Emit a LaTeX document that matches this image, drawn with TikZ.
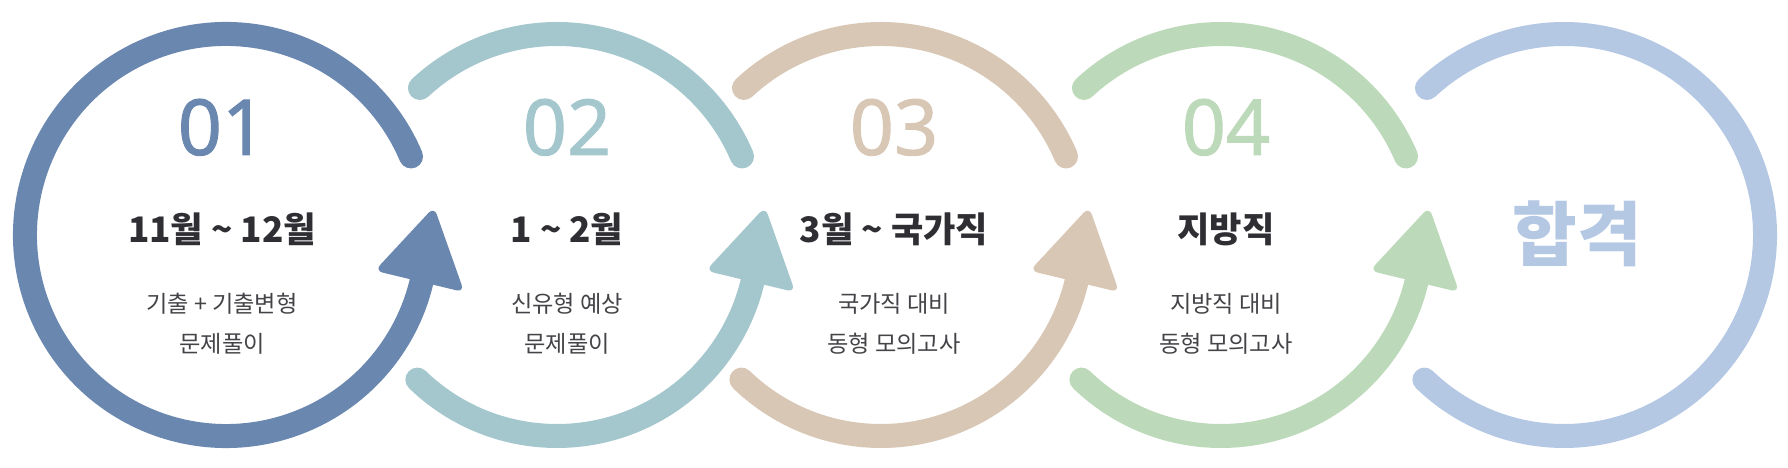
\documentclass[tikz,border=0pt]{standalone}
\usepackage{fontspec}
\setmainfont{Noto Sans CJK KR}
\newfontfamily\numfont[FakeBold=1.2]{Noto Sans}
\usetikzlibrary{calc}
\definecolor{stepone}{HTML}{6A87B0}
\definecolor{steptwo}{HTML}{A3C7CD}
\definecolor{stepthree}{HTML}{D9C7B5}
\definecolor{stepfour}{HTML}{BCDAB9}
\definecolor{passblue}{HTML}{B4C8E4}
\definecolor{titlegray}{HTML}{2E2E33}
\definecolor{subgray}{HTML}{444448}
\begin{document}
\begin{tikzpicture}[
    ring/.style={line width=0.24cm,line cap=round},
    arrowtip/.style={rounded corners=0.08cm},
    num/.style={font=\numfont\fontsize{22pt}{22pt}\selectfont,anchor=base},
    steptitle/.style={font=\bfseries\fontsize{10pt}{12pt}\selectfont,text=titlegray,anchor=base},
    stepsub/.style={font=\fontsize{6.6pt}{11.4pt}\selectfont,text=subgray,align=center}]
    \useasboundingbox (0,0) rectangle (17.88,4.68);
    \coordinate (c1) at (2.26,2.33);
    \coordinate (c2) at (5.57,2.33);
    \coordinate (c3) at (8.81,2.33);
    \coordinate (c4) at (12.21,2.33);
    \coordinate (c5) at (15.64,2.33);
    % circle 1
    \draw[ring,stepone] (c1) ++(23:2.01) arc[start angle=23,end angle=349,radius=2.01];
    \fill[stepone,arrowtip] ($(c1)+(-13.5:1.53)$) -- ($(c1)+(7.7:2.10)$) -- ($(c1)+(-13.5:2.45)$) -- cycle;
    % circle 2
    \draw[ring,steptwo] (c2) ++(133:2.01) arc[start angle=133,end angle=23,radius=2.01];
    \draw[ring,steptwo] (c2) ++(226:2.01) arc[start angle=226,end angle=349,radius=2.01];
    \fill[steptwo,arrowtip] ($(c2)+(-13.5:1.53)$) -- ($(c2)+(7.7:2.10)$) -- ($(c2)+(-13.5:2.45)$) -- cycle;
    % circle 3
    \draw[ring,stepthree] (c3) ++(133:2.01) arc[start angle=133,end angle=23,radius=2.01];
    \draw[ring,stepthree] (c3) ++(226:2.01) arc[start angle=226,end angle=349,radius=2.01];
    \fill[stepthree,arrowtip] ($(c3)+(-13.5:1.53)$) -- ($(c3)+(7.7:2.10)$) -- ($(c3)+(-13.5:2.45)$) -- cycle;
    % circle 4
    \draw[ring,stepfour] (c4) ++(133:2.01) arc[start angle=133,end angle=23,radius=2.01];
    \draw[ring,stepfour] (c4) ++(226:2.01) arc[start angle=226,end angle=349,radius=2.01];
    \fill[stepfour,arrowtip] ($(c4)+(-13.5:1.53)$) -- ($(c4)+(7.7:2.10)$) -- ($(c4)+(-13.5:2.45)$) -- cycle;
    % circle 5
    \draw[ring,passblue] (c5) ++(133:2.01) arc[start angle=133,end angle=-134,radius=2.01];

    \node[num,text=stepone] (num1) at (2.22,3.13) {01};
    \node[steptitle] (title1) at (2.22,2.25) {11월 \textasciitilde\ 12월};
    \node[stepsub] (sub1) at (2.22,1.44) {기출 + 기출변형\\문제풀이};

    \node[num,text=steptwo] (num2) at (5.67,3.13) {02};
    \node[steptitle] (title2) at (5.67,2.25) {1 \textasciitilde\ 2월};
    \node[stepsub] (sub2) at (5.67,1.44) {신유형 예상\\문제풀이};

    \node[num,text=stepthree] (num3) at (8.94,3.13) {03};
    \node[steptitle] (title3) at (8.94,2.25) {3월 \textasciitilde\ 국가직};
    \node[stepsub] (sub3) at (8.94,1.44) {국가직 대비\\동형 모의고사};

    \node[num,text=stepfour] (num4) at (12.26,3.13) {04};
    \node[steptitle] (title4) at (12.26,2.25) {지방직};
    \node[stepsub] (sub4) at (12.26,1.44) {지방직 대비\\동형 모의고사};

    \node[font=\bfseries\fontsize{20pt}{24pt}\selectfont,text=passblue] (pass) at (15.77,2.34) {합격};
\end{tikzpicture}
\end{document}
